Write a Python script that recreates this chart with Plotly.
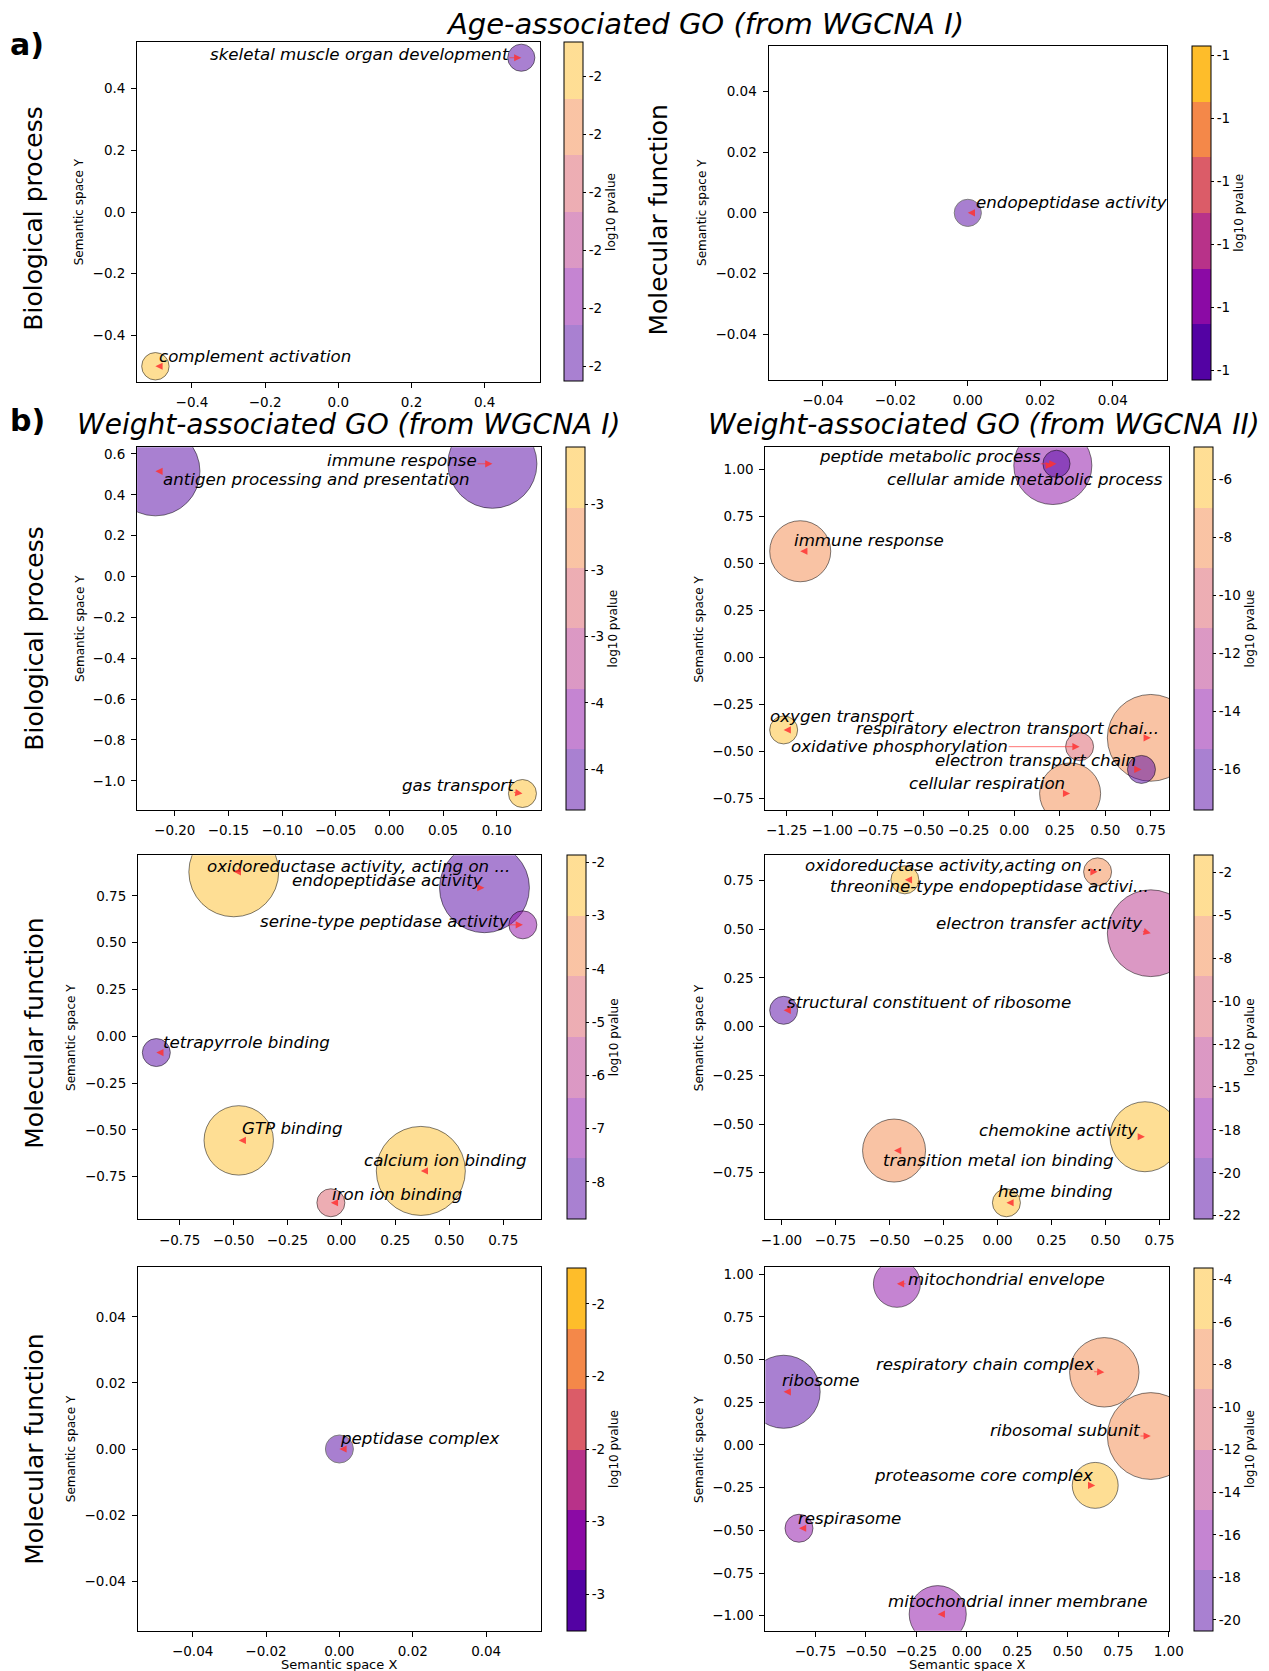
import math
import plotly.graph_objects as go

W, H = 1269, 1671
FONT = "DejaVu Sans"
LABEL_SIZE = 16.67
TICK_SIZE = 13.5
BASE_D = 28.0  # px diameter for relative size 1.0

# ---------------- data ----------------
# a) Age-associated GO (from WGCNA I) - Biological process
a_bp_terms = ["skeletal muscle organ development", "complement activation"]
a_bp_x = [0.5, -0.5]
a_bp_y = [0.5, -0.5]
a_bp_logp = [-2.326, -1.741]
a_bp_size = [0.97, 0.98]
a_bp_cbticks = [-2.3, -2.2, -2.1, -2.0, -1.9, -1.8]
a_bp_xticks = [-0.4, -0.2, 0.0, 0.2, 0.4]
a_bp_yticks = [-0.4, -0.2, 0.0, 0.2, 0.4]

# a) Age-associated GO (from WGCNA I) - Molecular function
a_mf_terms = ["endopeptidase activity"]
a_mf_x = [0.0]
a_mf_y = [0.0]
a_mf_logp = [-1.325]
a_mf_size = [0.97]
a_mf_cbticks = [-1.45, -1.40, -1.35, -1.30, -1.25, -1.20]
a_mf_xticks = [-0.04, -0.02, 0.0, 0.02, 0.04]
a_mf_yticks = [-0.04, -0.02, 0.0, 0.02, 0.04]

# b) Weight-associated GO (from WGCNA I) - Biological process
b1_bp_terms = ["antigen processing and presentation", "immune response", "gas transport"]
b1_bp_x = [-0.218, 0.096, 0.124]
b1_bp_y = [0.515, 0.552, -1.062]
b1_bp_logp = [-3.924, -3.88, -2.828]
b1_bp_size = [3.18, 3.18, 1.0]
b1_bp_cbticks = [-3.8, -3.6, -3.4, -3.2, -3.0]
b1_bp_xticks = [-0.20, -0.15, -0.10, -0.05, 0.0, 0.05, 0.10]
b1_bp_yticks = [-1.0, -0.8, -0.6, -0.4, -0.2, 0.0, 0.2, 0.4, 0.6]

# b) Weight-associated GO (from WGCNA II) - Biological process
b2_bp_terms = ["peptide metabolic process", "cellular amide metabolic process", "immune response",
               "oxygen transport", "respiratory electron transport chai...", "oxidative phosphorylation",
               "electron transport chain", "cellular respiration"]
b2_bp_x = [0.232, 0.212, -1.176, -1.267, 0.75, 0.359, 0.699, 0.307]
b2_bp_y = [1.029, 1.02, 0.564, -0.386, -0.428, -0.475, -0.596, -0.724]
b2_bp_logp = [-17.4, -14.2, -8.1, -4.9, -7.6, -10.3, -16.6, -8.4]
b2_bp_size = [0.97, 2.79, 2.18, 1.0, 3.1, 1.0, 1.0, 2.18]
b2_bp_cbticks = [-16, -14, -12, -10, -8, -6]
b2_bp_xticks = [-1.25, -1.0, -0.75, -0.5, -0.25, 0.0, 0.25, 0.5, 0.75]
b2_bp_yticks = [-0.75, -0.5, -0.25, 0.0, 0.25, 0.5, 0.75, 1.0]

# b) Weight-associated GO (from WGCNA I) - Molecular function
b1_mf_terms = ["oxidoreductase activity, acting on ...", "endopeptidase activity",
               "serine-type peptidase activity", "tetrapyrrole binding", "GTP binding",
               "calcium ion binding", "iron ion binding"]
b1_mf_x = [-0.499, 0.663, 0.841, -0.858, -0.476, 0.368, -0.049]
b1_mf_y = [0.878, 0.793, 0.595, -0.087, -0.556, -0.719, -0.889]
b1_mf_logp = [-1.87, -8.70, -7.0, -8.3, -2.3, -2.6, -4.7]
b1_mf_size = [3.21, 3.21, 1.0, 1.0, 2.48, 3.18, 1.0]
b1_mf_cbticks = [-8, -7, -6, -5, -4, -3, -2]
b1_mf_xticks = [-0.75, -0.5, -0.25, 0.0, 0.25, 0.5, 0.75]
b1_mf_yticks = [-0.75, -0.5, -0.25, 0.0, 0.25, 0.5, 0.75]

# b) Weight-associated GO (from WGCNA II) - Molecular function
b2_mf_terms = ["oxidoreductase activity,acting on ...", "threonine-type endopeptidase activi...",
               "electron transfer activity", "structural constituent of ribosome",
               "chemokine activity", "transition metal ion binding", "heme binding"]
b2_mf_x = [0.463, -0.429, 0.709, -0.990, 0.682, -0.479, 0.041]
b2_mf_y = [0.795, 0.754, 0.480, 0.084, -0.565, -0.636, -0.904]
b2_mf_logp = [-7.0, -1.5, -14.0, -22.71, -2.4, -6.8, -3.2]
b2_mf_size = [1.0, 1.0, 3.1, 1.0, 2.5, 2.25, 1.0]
b2_mf_cbticks = [-22.5, -20, -17.5, -15, -12.5, -10, -7.5, -5, -2.5]
b2_mf_xticks = [-1.0, -0.75, -0.5, -0.25, 0.0, 0.25, 0.5, 0.75]
b2_mf_yticks = [-0.75, -0.5, -0.25, 0.0, 0.25, 0.5, 0.75]

# b) Weight-associated GO (from WGCNA I) - third row
b1_cc_terms = ["peptidase complex"]
b1_cc_x = [0.0]
b1_cc_y = [0.0]
b1_cc_logp = [-2.5]
b1_cc_size = [1.0]
b1_cc_cbticks = [-2.7, -2.6, -2.5, -2.4, -2.3]
b1_cc_xticks = [-0.04, -0.02, 0.0, 0.02, 0.04]
b1_cc_yticks = [-0.04, -0.02, 0.0, 0.02, 0.04]

# b) Weight-associated GO (from WGCNA II) - third row
b2_cc_terms = ["mitochondrial envelope", "ribosome", "respiratory chain complex", "ribosomal subunit",
               "proteasome core complex", "respirasome", "mitochondrial inner membrane"]
b2_cc_x = [-0.346, -0.907, 0.681, 0.911, 0.636, -0.831, -0.144]
b2_cc_y = [0.943, 0.311, 0.425, 0.052, -0.237, -0.488, -0.991]
b2_cc_logp = [-16.2, -20.5, -8.0, -7.4, -3.43, -16.8, -15.8]
b2_cc_size = [1.68, 2.61, 2.48, 3.1, 1.64, 1.0, 2.04]
b2_cc_cbticks = [-20, -18, -16, -14, -12, -10, -8, -6, -4]
b2_cc_xticks = [-0.75, -0.5, -0.25, 0.0, 0.25, 0.5, 0.75, 1.0]
b2_cc_yticks = [-1.0, -0.75, -0.5, -0.25, 0.0, 0.25, 0.5, 0.75, 1.0]

# ---------------- layout (label placement offsets in px, panel boxes in px) ----------------
a_bp_lab = [(-312, 2.8), (3, 9.7)]
a_mf_lab = [(6.7, 10)]
b1_bp_lab = [(6.7, -8.5), (-166.2, 3.4), (-121.6, 8.2)]
b2_bp_lab = [(-238.1, 7), (-166.9, -14), (-7.3, 10.5), (-14.2, 13.7), (-296, 8.9),
             (-289.4, 0.4), (-207.8, 8.8), (-162.2, 10.5)]
b1_mf_lab = [(-27.6, 5.5), (-193.9, 7.4), (-264.1, 3.5), (5.3, 9.7), (2, 11.5), (-57.5, 10.5), (-0.2, 8.5)]
b2_mf_lab = [(-293.4, 6.5), (-76.2, -7), (-215.7, 9.3), (2.1, 8.1), (-166.6, 5.9), (-12.3, -10), (-9.8, 11.7)]
b1_cc_lab = [(-0.6, 10.2)]
b2_cc_lab = [(10.2, 4.5), (-2.8, 11.4), (-229.8, 7.7), (-161.5, 5.2), (-222.7, 10.3), (-2, 9.4), (-51, 12.7)]

PANELS = [
    dict(terms=a_bp_terms, x=a_bp_x, y=a_bp_y, logp=a_bp_logp, size=a_bp_size, cbticks=a_bp_cbticks,
         xticks=a_bp_xticks, yticks=a_bp_yticks, xdec=1, ydec=1, lab=a_bp_lab,
         box=(137.1, 42.3, 539.6, 381.7), cbx=564.0, xtitle=False),
    dict(terms=a_mf_terms, x=a_mf_x, y=a_mf_y, logp=a_mf_logp, size=a_mf_size, cbticks=a_mf_cbticks,
         xticks=a_mf_xticks, yticks=a_mf_yticks, xdec=2, ydec=2, lab=a_mf_lab,
         box=(768.5, 45.7, 1167.1, 380.0), cbx=1192.3, xtitle=False),
    dict(terms=b1_bp_terms, x=b1_bp_x, y=b1_bp_y, logp=b1_bp_logp, size=b1_bp_size, cbticks=b1_bp_cbticks,
         xticks=b1_bp_xticks, yticks=b1_bp_yticks, xdec=2, ydec=1, lab=b1_bp_lab,
         box=(137.1, 447.3, 540.8, 810.0), cbx=566.0, xtitle=False),
    dict(terms=b2_bp_terms, x=b2_bp_x, y=b2_bp_y, logp=b2_bp_logp, size=b2_bp_size, cbticks=b2_bp_cbticks,
         xticks=b2_bp_xticks, yticks=b2_bp_yticks, xdec=2, ydec=2, lab=b2_bp_lab,
         box=(765.3, 447.3, 1169.1, 810.0), cbx=1194.4, xtitle=False),
    dict(terms=b1_mf_terms, x=b1_mf_x, y=b1_mf_y, logp=b1_mf_logp, size=b1_mf_size, cbticks=b1_mf_cbticks,
         xticks=b1_mf_xticks, yticks=b1_mf_yticks, xdec=2, ydec=2, lab=b1_mf_lab,
         box=(138.0, 855.3, 541.2, 1219.3), cbx=566.5, xtitle=False),
    dict(terms=b2_mf_terms, x=b2_mf_x, y=b2_mf_y, logp=b2_mf_logp, size=b2_mf_size, cbticks=b2_mf_cbticks,
         xticks=b2_mf_xticks, yticks=b2_mf_yticks, xdec=2, ydec=2, lab=b2_mf_lab,
         box=(765.3, 855.3, 1169.1, 1219.3), cbx=1194.4, xtitle=False),
    dict(terms=b1_cc_terms, x=b1_cc_x, y=b1_cc_y, logp=b1_cc_logp, size=b1_cc_size, cbticks=b1_cc_cbticks,
         xticks=b1_cc_xticks, yticks=b1_cc_yticks, xdec=2, ydec=2, lab=b1_cc_lab,
         box=(137.6, 1267.3, 541.2, 1630.7), cbx=567.3, xtitle=True),
    dict(terms=b2_cc_terms, x=b2_cc_x, y=b2_cc_y, logp=b2_cc_logp, size=b2_cc_size, cbticks=b2_cc_cbticks,
         xticks=b2_cc_xticks, yticks=b2_cc_yticks, xdec=2, ydec=2, lab=b2_cc_lab,
         box=(765.3, 1267.3, 1169.1, 1630.7), cbx=1194.4, xtitle=True),
]

PLASMA6 = ["#5302a3", "#8b0aa5", "#b83289", "#db5c68", "#f48849", "#febd2a"]

# DejaVu Sans advance widths (em)
CW = {' ': .318, 'a': .613, 'b': .635, 'c': .550, 'd': .635, 'e': .615, 'f': .352, 'g': .635, 'h': .634,
      'i': .278, 'j': .278, 'k': .579, 'l': .278, 'm': .974, 'n': .634, 'o': .612, 'p': .635, 'q': .635,
      'r': .411, 's': .521, 't': .392, 'u': .634, 'v': .592, 'w': .818, 'x': .592, 'y': .592, 'z': .525,
      ',': .318, '.': .318, '-': .361, 'G': .775, 'T': .611, 'P': .603, '\u2212': .838,
      '0': .636, '1': .636, '2': .636, '3': .636, '4': .636, '5': .636, '6': .636, '7': .636, '8': .636, '9': .636}


def text_w(s, size):
    return sum(CW.get(ch, 0.6) for ch in s) * size


def rgba(h, a):
    h = h.lstrip('#')
    return "rgba(%d,%d,%d,%s)" % (int(h[0:2], 16), int(h[2:4], 16), int(h[4:6], 16), a)


def step_scale(colors):
    n = len(colors)
    cs = []
    for i, c in enumerate(colors):
        cs.append([i / n, c])
        cs.append([(i + 1) / n, c])
    return cs


def fmt_tick(v, nd):
    s = f"{abs(v):.{nd}f}"
    return ("\u2212" + s) if (v < 0 and float(s) != 0) else s


def padded(vals):
    lo, hi = min(vals), max(vals)
    if hi - lo < 1e-12:
        d = 0.05 if lo == 0 else 0.05 * abs(lo)
        lo, hi = lo - d, hi + d
    m = 0.05 * (hi - lo)
    return [lo - m, hi + m]


def cb_range(vals):
    lo, hi = min(vals), max(vals)
    if hi - lo < 1e-12:
        d = 0.1 * abs(lo)
        return lo - d, hi + d, True
    return lo, hi, False


fig = go.Figure()
layout = dict(width=W, height=H, margin=dict(l=0, r=0, t=0, b=0), template="none",
              paper_bgcolor="white", plot_bgcolor="white", showlegend=False)
annotations = []

for i, p in enumerate(PANELS, start=1):
    sfx = '' if i == 1 else str(i)
    xa, ya = 'x' + sfx, 'y' + sfx
    l, t, r, b = p['box']
    xr, yr = padded(p['x']), padded(p['y'])
    common = dict(showline=True, mirror=True, linecolor='black', linewidth=1, showgrid=False,
                  zeroline=False, ticks='outside', ticklen=5, tickwidth=1, tickcolor='black',
                  ticklabelstandoff=3,
                  tickfont=dict(family=FONT, size=TICK_SIZE, color='black'))
    xtt = [fmt_tick(v, p['xdec']) for v in p['xticks']]
    ytt = [fmt_tick(v, p['ydec']) for v in p['yticks']]
    layout['xaxis' + sfx] = dict(domain=[l / W, r / W], anchor=ya, range=xr, tickmode='array',
                                 tickvals=p['xticks'], ticktext=xtt, **common)
    layout['yaxis' + sfx] = dict(domain=[1 - b / H, 1 - t / H], anchor=xa, range=yr, tickmode='array',
                                 tickvals=p['yticks'], ticktext=ytt, **common)

    lo, hi, single = cb_range(p['logp'])
    norm = [0.0 if single else min(1.0, max(0.0, (v - lo) / (hi - lo))) for v in p['logp']]
    if single:
        cs = step_scale(PLASMA6)
        mop, lcol = 0.5, 'black'
    else:
        cs = step_scale([rgba(c, 0.5) for c in PLASMA6])
        mop, lcol = 1.0, 'rgba(0,0,0,0.5)'

    n = len(p['terms'])
    order = sorted(range(n), key=lambda k: -p['size'][k])
    cb = dict(x=p['cbx'] / W, xanchor='left', y=1 - (t + b) / 2 / H, yanchor='middle',
              len=(b - t) / H, lenmode='fraction', thickness=18.5, thicknessmode='pixels',
              xpad=0, ypad=0, outlinewidth=1, outlinecolor='black',
              tickmode='array', tickvals=[(v - lo) / (hi - lo) for v in p['cbticks']],
              ticktext=[f"{v:.0f}" for v in p['cbticks']],
              ticks='outside', ticklen=3, tickwidth=1, tickcolor='black',
              tickfont=dict(family=FONT, size=TICK_SIZE, color='black'),
              title=dict(text='log10 pvalue', side='right', font=dict(family=FONT, size=12, color='black')))
    fig.add_trace(go.Scatter(
        x=[p['x'][k] for k in order], y=[p['y'][k] for k in order], xaxis=xa, yaxis=ya,
        mode='markers', text=[p['terms'][k] for k in order], hoverinfo='text', cliponaxis=True,
        marker=dict(size=[p['size'][k] * BASE_D for k in order], color=[norm[k] for k in order],
                    cmin=0, cmax=1, colorscale=cs, opacity=mop,
                    line=dict(color=lcol, width=1), showscale=True, colorbar=cb)))

    # labels + red arrows
    sx = (r - l) / (xr[1] - xr[0])
    sy = (b - t) / (yr[1] - yr[0])
    for k in range(n):
        term = p['terms'][k]
        dx, dy = p['lab'][k]
        xv, yv = p['x'][k], p['y'][k]
        annotations.append(dict(x=xv, y=yv, xref=xa, yref=ya, text=f"<i>{term}</i>", showarrow=False,
                                xanchor='left', yanchor='middle', xshift=dx, yshift=dy, borderpad=0,
                                font=dict(family=FONT, size=LABEL_SIZE, color='black')))
        ppx = l + (xv - xr[0]) * sx
        ppy = b - (yv - yr[0]) * sy
        w = text_w(term, LABEL_SIZE)
        bx0, bx1 = ppx + dx, ppx + dx + w
        byc = ppy - dy
        by0, by1 = byc - 7, byc + 7
        qx = min(max(ppx, bx0), bx1)
        qy = min(max(ppy, by0), by1)
        dist = math.hypot(qx - ppx, qy - ppy)
        if dist < 8:
            sgn = 1 if (bx0 + bx1) / 2 >= ppx else -1
            ax, ay = 8 * sgn, 0
        else:
            ax, ay = qx - ppx, qy - ppy
        annotations.append(dict(x=xv, y=yv, xref=xa, yref=ya, text="", showarrow=True,
                                ax=ax, ay=ay, axref='pixel', ayref='pixel', arrowhead=2,
                                arrowsize=1.8, arrowwidth=0.8, arrowcolor='rgba(255,50,50,0.85)',
                                standoff=0, startstandoff=0))

    # y-axis title
    maxw = max(text_w(s, TICK_SIZE) for s in ytt)
    xc = l - 25 - maxw
    annotations.append(dict(x=xc / W, y=1 - (t + b) / 2 / H, xref='paper', yref='paper',
                            text='Semantic space Y', textangle=-90, showarrow=False,
                            xanchor='center', yanchor='middle',
                            font=dict(family=FONT, size=12, color='black')))
    if p['xtitle']:
        annotations.append(dict(x=(l + r) / 2 / W, y=1 - 1664 / H, xref='paper', yref='paper',
                                text='Semantic space X', showarrow=False,
                                xanchor='center', yanchor='middle',
                                font=dict(family=FONT, size=13, color='black')))

# figure-level texts
def paper_text(text, xpx, ypx, size, angle=0):
    return dict(x=xpx / W, y=1 - ypx / H, xref='paper', yref='paper', text=text, showarrow=False,
                xanchor='center', yanchor='middle', textangle=angle,
                font=dict(family=FONT, size=size, color='black'))

annotations += [
    paper_text("<b>a)</b>", 27, 44, 30),
    paper_text("<b>b)</b>", 27, 420, 30),
    paper_text("<i>Age-associated GO (from WGCNA I)</i>", 704.5, 24, 29),
    paper_text("<i>Weight-associated GO (from WGCNA I)</i>", 348.4, 424, 28),
    paper_text("<i>Weight-associated GO (from WGCNA II)</i>", 984.0, 424, 28),
    paper_text("Biological process", 33.7, 219, 25, -90),
    paper_text("Molecular function", 657.5, 220, 25, -90),
    paper_text("Biological process", 33.7, 639, 25, -90),
    paper_text("Molecular function", 33.7, 1033, 25, -90),
    paper_text("Molecular function", 33.7, 1449, 25, -90),
]

layout['annotations'] = annotations
fig.update_layout(**layout)
fig.write_html("out.html")
